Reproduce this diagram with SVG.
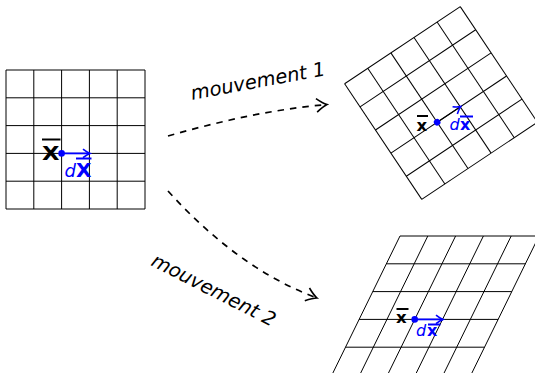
<svg xmlns="http://www.w3.org/2000/svg" width="535" height="373" viewBox="0 0 535 373">
<style>
.grid line{stroke:#000;stroke-width:1;}
.bx{font-family:"DejaVu Sans",sans-serif;font-weight:bold;}
.it{font-family:"DejaVu Sans",sans-serif;font-style:oblique;}
.blk{fill:#000;}
.blu{fill:#0000ff;}
.bar{stroke-width:2;}
.varrow{stroke:#0000ff;stroke-width:1.8;fill:none;marker-end:url(#ahb);}
.mv{stroke:#000;stroke-width:1.7;fill:none;stroke-dasharray:6.5 6;marker-end:url(#ahk);}
.lbl{font-family:"DejaVu Sans",sans-serif;font-style:oblique;font-size:19.5px;fill:#000;}
</style>
<defs>
<marker id="ahb" markerUnits="userSpaceOnUse" viewBox="-9 -6 11 12" markerWidth="11" markerHeight="12" refX="0" refY="0" orient="auto">
<path d="M-7,-4.3 Q-2.7,-0.9 0,0 Q-2.7,0.9 -7,4.3" fill="none" stroke="#0000ff" stroke-width="1.6" stroke-dasharray="none"/>
</marker>
<marker id="ahk" markerUnits="userSpaceOnUse" viewBox="-13 -9 15 18" markerWidth="15" markerHeight="18" refX="0" refY="0" orient="auto">
<path d="M-10.5,-6.8 Q-4,-1.5 0,0 Q-4,1.5 -10.5,6.8" fill="none" stroke="#000" stroke-width="1.6" stroke-dasharray="none"/>
</marker>
</defs>

<g id="grille-initiale">
<g class="grid">
<line x1="6" y1="70" x2="6" y2="209"/>
<line x1="33.8" y1="70" x2="33.8" y2="209"/>
<line x1="61.6" y1="70" x2="61.6" y2="209"/>
<line x1="89.4" y1="70" x2="89.4" y2="209"/>
<line x1="117.2" y1="70" x2="117.2" y2="209"/>
<line x1="145" y1="70" x2="145" y2="209"/>
<line x1="6" y1="70" x2="145" y2="70"/>
<line x1="6" y1="97.8" x2="145" y2="97.8"/>
<line x1="6" y1="125.6" x2="145" y2="125.6"/>
<line x1="6" y1="153.4" x2="145" y2="153.4"/>
<line x1="6" y1="181.2" x2="145" y2="181.2"/>
<line x1="6" y1="209" x2="145" y2="209"/>
</g>
<line class="varrow" x1="61.6" y1="153.4" x2="90" y2="153.4"/>
<circle cx="61.6" cy="153.4" r="3.3" fill="#0000ff"/>
<line class="bar" x1="42" y1="139.5" x2="60.5" y2="139.5" stroke="#000"/>
<text class="bx blk" x="42" y="160" font-size="20" textLength="17.5" lengthAdjust="spacingAndGlyphs">X</text>
<text class="it blu" x="64.5" y="176.5" font-size="18">d</text>
<text class="bx blu" x="76" y="176.5" font-size="19" textLength="15.5" lengthAdjust="spacingAndGlyphs">X</text>
<line class="bar" x1="76" y1="158.5" x2="91.5" y2="158.5" stroke="#0000ff"/>
</g>

<g id="grille-mouvement-1">
<g class="grid" transform="translate(441,103) rotate(-33.7)">
<line x1="-69.5" y1="-69.5" x2="-69.5" y2="69.5"/>
<line x1="-41.7" y1="-69.5" x2="-41.7" y2="69.5"/>
<line x1="-13.9" y1="-69.5" x2="-13.9" y2="69.5"/>
<line x1="13.9" y1="-69.5" x2="13.9" y2="69.5"/>
<line x1="41.7" y1="-69.5" x2="41.7" y2="69.5"/>
<line x1="69.5" y1="-69.5" x2="69.5" y2="69.5"/>
<line x1="-69.5" y1="-69.5" x2="69.5" y2="-69.5"/>
<line x1="-69.5" y1="-41.7" x2="69.5" y2="-41.7"/>
<line x1="-69.5" y1="-13.9" x2="69.5" y2="-13.9"/>
<line x1="-69.5" y1="13.9" x2="69.5" y2="13.9"/>
<line x1="-69.5" y1="41.7" x2="69.5" y2="41.7"/>
<line x1="-69.5" y1="69.5" x2="69.5" y2="69.5"/>
<line class="varrow" x1="-13.9" y1="13.9" x2="14.5" y2="13.9"/>
<circle cx="-13.9" cy="13.9" r="3.3" fill="#0000ff"/>
</g>
<line class="bar" x1="417" y1="116" x2="428" y2="116" stroke="#000"/>
<text class="bx blk" x="416.5" y="130.5" font-size="16.5">x</text>
<text class="it blu" x="449.5" y="129.5" font-size="16">d</text>
<text class="bx blu" x="460" y="129.5" font-size="16">x</text>
<line class="bar" x1="460" y1="116.5" x2="473" y2="116.5" stroke="#0000ff"/>
</g>

<g id="grille-mouvement-2">
<g class="grid">
<line x1="400" y1="236" x2="539" y2="236"/>
<line x1="386.4" y1="263.8" x2="525.4" y2="263.8"/>
<line x1="372.8" y1="291.6" x2="511.8" y2="291.6"/>
<line x1="359.1" y1="319.4" x2="498.1" y2="319.4"/>
<line x1="345.5" y1="347.2" x2="484.5" y2="347.2"/>
<line x1="331.9" y1="375" x2="470.9" y2="375"/>
<line x1="400" y1="236" x2="331.9" y2="375"/>
<line x1="427.8" y1="236" x2="359.7" y2="375"/>
<line x1="455.6" y1="236" x2="387.5" y2="375"/>
<line x1="483.4" y1="236" x2="415.3" y2="375"/>
<line x1="511.2" y1="236" x2="443.1" y2="375"/>
<line x1="539" y1="236" x2="470.9" y2="375"/>
</g>
<line class="varrow" x1="414.7" y1="319.4" x2="443" y2="319.4"/>
<circle cx="414.7" cy="319.4" r="3.3" fill="#0000ff"/>
<line class="bar" x1="396.5" y1="309" x2="408.5" y2="309" stroke="#000"/>
<text class="bx blk" x="396" y="323" font-size="16.5">x</text>
<text class="it blu" x="416" y="335.5" font-size="16">d</text>
<text class="bx blu" x="427" y="335.5" font-size="16">x</text>
<line class="bar" x1="428" y1="324.5" x2="440.5" y2="324.5" stroke="#0000ff"/>
</g>

<g id="connecteurs">
<path class="mv" d="M168,136 C219.9,121.1 273.2,109.2 327,104.5"/>
<path class="mv" d="M168,191 C208.8,236.3 259.7,277.1 317,298"/>
<text class="lbl" transform="translate(192,100) rotate(-10.5)">mouvement 1</text>
<text class="lbl" transform="translate(150,265) rotate(27)">mouvement 2</text>
</g>
</svg>
